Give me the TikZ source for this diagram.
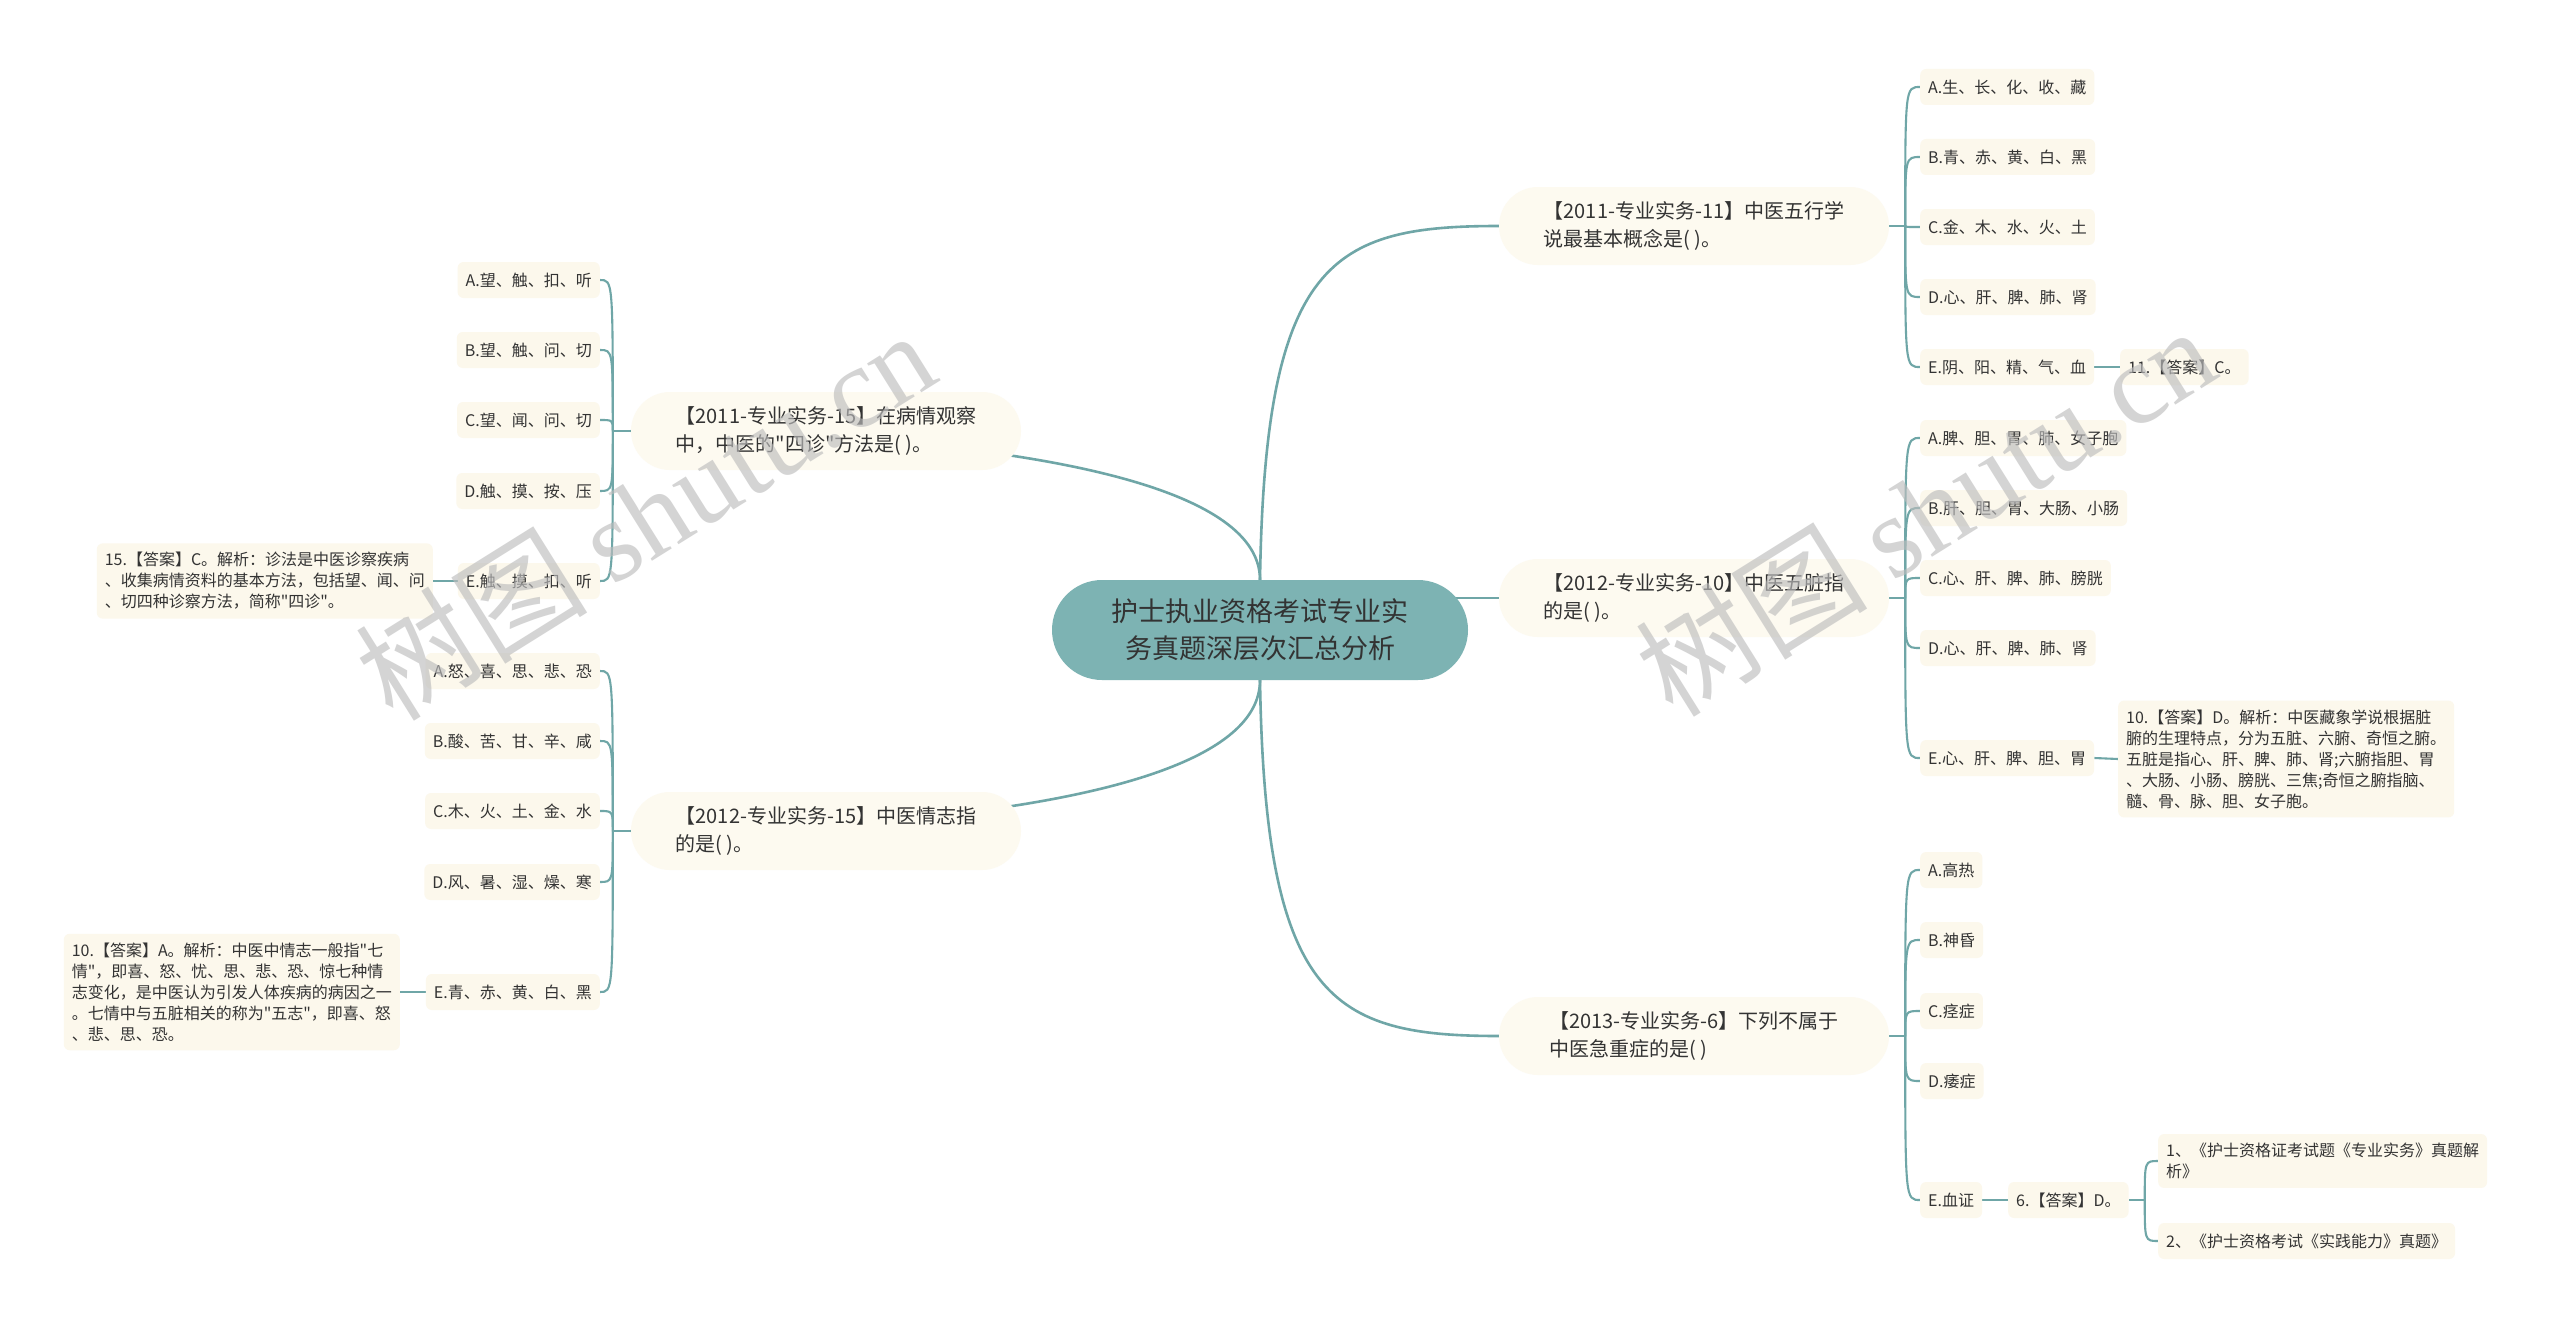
\documentclass[tikz,border=0pt]{standalone}
\usepackage{fontspec}
\newfontfamily\cjk{Noto Sans CJK SC}
\newfontfamily\wmlatin{Liberation Serif}
\usetikzlibrary{backgrounds}
\definecolor{linec}{HTML}{6FA6A7}
\definecolor{ctrfill}{HTML}{7DB3B3}
\definecolor{pillfill}{HTML}{FDFAF0}
\definecolor{leaffill}{HTML}{FCF8EC}
\definecolor{txt}{HTML}{333333}
\definecolor{wmgray}{HTML}{BDBDBD}
\tikzset{
  conn/.style={draw=linec, line width=2.6pt},
  lconn/.style={draw=linec, line width=2.1pt},
  rootbox/.style={fill=ctrfill, rounded corners=50pt, minimum width=416pt, minimum height=100pt, align=center, text=txt, font=\cjk\fontsize{27}{37}\selectfont, inner sep=0pt},
  topicbox/.style={fill=pillfill, rounded corners=39pt, minimum width=390pt, minimum height=78pt, align=left, text=txt, font=\cjk\fontsize{20}{28}\selectfont, inner sep=0pt},
  leafbox/.style={fill=leaffill, rounded corners=6pt, minimum height=36pt, inner xsep=8pt, inner ysep=0pt, text=txt, font=\cjk\fontsize{16}{21}\selectfont},
  notebox/.style={fill=leaffill, rounded corners=6pt, inner xsep=8pt, inner ysep=9pt, align=left, text=txt, font=\cjk\fontsize{16}{21}\selectfont},
  wmtext/.style={text=wmgray, opacity=0.65, rotate=32, inner sep=0pt}
}
\begin{document}
\begin{tikzpicture}[x=1pt,y=-1pt]
\useasboundingbox (0,0) rectangle (2560,1327);
% root and topics
\node[rootbox] (c) at (1260,630) {护士执业资格考试专业实\\务真题深层次汇总分析};
\node[topicbox] (R1) at (1694,226) {【2011-专业实务-11】中医五行学\\说最基本概念是( )。};
\node[topicbox] (R2) at (1694,598) {【2012-专业实务-10】中医五脏指\\的是( )。};
\node[topicbox] (R3) at (1694,1036) {【2013-专业实务-6】下列不属于\\中医急重症的是( )};
\node[topicbox] (L1) at (826,431) {【2011-专业实务-15】在病情观察\\中，中医的"四诊"方法是( )。};
\node[topicbox] (L2) at (826,831) {【2012-专业实务-15】中医情志指\\的是( )。};
% R1 leaves
\foreach \n/\y/\t in {A/87/{A.生、长、化、收、藏}, B/157/{B.青、赤、黄、白、黑}, C/227/{C.金、木、水、火、土}, D/297/{D.心、肝、脾、肺、肾}, E/367/{E.阴、阳、精、气、血}}
  {\node[leafbox, anchor=west] (R1\n) at (1920,\y) {\t};}
\node[leafbox, anchor=west] (R1n) at (2120,367) {11.【答案】C。};
% R2 leaves
\foreach \n/\y/\t in {A/438/{A.脾、胆、胃、肺、女子胞}, B/508/{B.肝、胆、胃、大肠、小肠}, C/578/{C.心、肝、脾、肺、膀胱}, D/648/{D.心、肝、脾、肺、肾}, E/758/{E.心、肝、脾、胆、胃}}
  {\node[leafbox, anchor=west] (R2\n) at (1920,\y) {\t};}
\node[notebox, anchor=west] (R2n) at (2118,759) {10.【答案】D。解析：中医藏象学说根据脏\\腑的生理特点，分为五脏、六腑、奇恒之腑。\\五脏是指心、肝、脾、肺、肾;六腑指胆、胃\\、大肠、小肠、膀胱、三焦;奇恒之腑指脑、\\髓、骨、脉、胆、女子胞。};
% R3 leaves
\foreach \n/\y/\t in {A/870/{A.高热}, B/940/{B.神昏}, C/1011/{C.痉症}, D/1081/{D.痿症}, E/1200/{E.血证}}
  {\node[leafbox, anchor=west] (R3\n) at (1920,\y) {\t};}
\node[leafbox, anchor=west] (R3n) at (2008,1200) {6.【答案】D。};
\node[notebox, anchor=west] (R3s1) at (2158,1161) {1、《护士资格证考试题《专业实务》真题解\\析》};
\node[leafbox, anchor=west] (R3s2) at (2158,1241) {2、《护士资格考试《实践能力》真题》};
% L1 leaves
\foreach \n/\y/\t in {A/280/{A.望、触、扣、听}, B/350/{B.望、触、问、切}, C/420/{C.望、闻、问、切}, D/491/{D.触、摸、按、压}, E/581/{E.触、摸、扣、听}}
  {\node[leafbox, anchor=east] (L1\n) at (600,\y) {\t};}
\node[notebox, anchor=east] (L1n) at (433,581) {15.【答案】C。解析：诊法是中医诊察疾病\\、收集病情资料的基本方法，包括望、闻、问\\、切四种诊察方法，简称"四诊"。};
% L2 leaves
\foreach \n/\y/\t in {A/671/{A.怒、喜、思、悲、恐}, B/741/{B.酸、苦、甘、辛、咸}, C/811/{C.木、火、土、金、水}, D/882/{D.风、暑、湿、燥、寒}, E/992/{E.青、赤、黄、白、黑}}
  {\node[leafbox, anchor=east] (L2\n) at (600,\y) {\t};}
\node[notebox, anchor=east] (L2n) at (400,992) {10.【答案】A。解析：中医中情志一般指"七\\情"，即喜、怒、忧、思、悲、恐、惊七种情\\志变化，是中医认为引发人体疾病的病因之一\\。七情中与五脏相关的称为"五志"，即喜、怒\\、悲、思、恐。};
% connectors
\begin{scope}[on background layer]
\fill[white] (0,0) rectangle (2560,1327);
\draw[conn] (c.north) .. controls +(5,-320) and +(-167,0) .. (R1.west);
\draw[conn] (c.center |- R2.west) -- (R2.west);
\draw[conn] (c.south) .. controls +(5,320) and +(-167,0) .. (R3.west);
\draw[conn] (c.north) .. controls +(0,-134) and +(168,0) .. (L1.west);
\draw[conn] (c.south) .. controls +(0,136) and +(168,0) .. (L2.west);
% right brackets
\foreach \g in {R1,R2,R3}{
  \draw[lconn] (\g.east) -- ++(16,0) coordinate (j\g);
  \foreach \n in {A,B,C,D,E}{
    \draw[lconn] (j\g) .. controls (j\g |- \g\n.west) and (j\g |- \g\n.west) .. (\g\n.west);
  }
}
% left brackets
\foreach \g in {L1,L2}{
  \draw[lconn] (\g.west) -- ++(-18,0) coordinate (j\g);
  \foreach \n in {A,B,C,D,E}{
    \draw[lconn] (j\g) .. controls (j\g |- \g\n.east) and (j\g |- \g\n.east) .. (\g\n.east);
  }
}
\draw[lconn] (R1E.east) -- (R1n.west);
\draw[lconn] (R2E.east) -- (R2n.west);
\draw[lconn] (R3E.east) -- (R3n.west);
\draw[lconn] (L1n.east) -- (L1E.west);
\draw[lconn] (L2n.east) -- (L2E.west);
\draw[lconn] (R3n.east) -- ++(16,0) coordinate (jR3n);
\draw[lconn] (jR3n) .. controls (jR3n |- R3s1.west) and (jR3n |- R3s1.west) .. (R3s1.west);
\draw[lconn] (jR3n) .. controls (jR3n |- R3s2.west) and (jR3n |- R3s2.west) .. (R3s2.west);
\end{scope}
% watermarks
\node[wmtext] (wm1) at (645,514) {\cjk\fontsize{116}{116}\selectfont 树图 {\wmlatin shutu.cn}};
\node[wmtext] (wm2) at (1925,510) {\cjk\fontsize{116}{116}\selectfont 树图 {\wmlatin shutu.cn}};
\end{tikzpicture}
\end{document}
